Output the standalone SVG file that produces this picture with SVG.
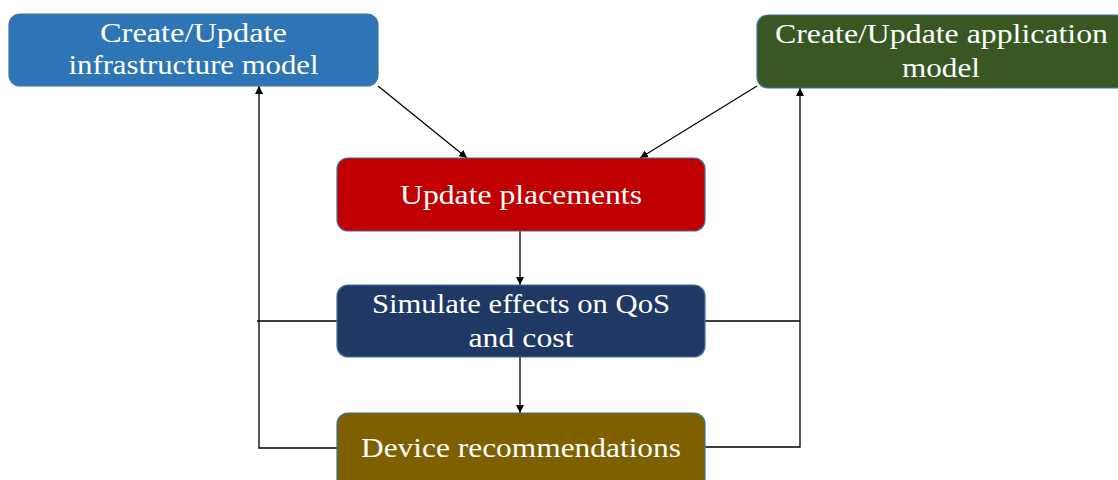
<svg xmlns="http://www.w3.org/2000/svg" width="1118" height="480" viewBox="0 0 1118 480">
  <defs>
    <marker id="arrow" viewBox="0 0 10 10" refX="10" refY="5" markerWidth="8" markerHeight="8" markerUnits="userSpaceOnUse" orient="auto">
      <path d="M0,0 L10,5 L0,10 z" fill="#000"/>
    </marker>
    <style>
      .box { stroke: #41719C; stroke-width: 1.2; }
      .lbl { font-family: "Liberation Serif", "Times New Roman", serif; font-size: 27px; fill: #fff; text-anchor: middle; }
      .wire { fill: none; stroke: #000; stroke-width: 1.3; }
    </style>
  </defs>
  <rect width="1118" height="480" fill="#fff"/>

  <g id="connectors">
    <line class="wire" x1="378" y1="86" x2="467" y2="158" marker-end="url(#arrow)"/>
    <line class="wire" x1="757" y1="86" x2="640" y2="158" marker-end="url(#arrow)"/>
    <line class="wire" x1="520" y1="231" x2="520" y2="285" marker-end="url(#arrow)"/>
    <line class="wire" x1="520" y1="357" x2="520" y2="413" marker-end="url(#arrow)"/>
    <!-- left feedback loop -->
    <polyline class="wire" points="337,448 259,448 259,86" marker-end="url(#arrow)"/>
    <line class="wire" x1="257" y1="321" x2="337" y2="321"/>
    <!-- right feedback loop -->
    <polyline class="wire" points="705,447 800,447 800,88" marker-end="url(#arrow)"/>
    <line class="wire" x1="705" y1="321" x2="800" y2="321"/>
  </g>

  <g id="infra-model">
    <rect class="box" x="9" y="14" width="369" height="72" rx="11" fill="#2E75B6"/>
    <text class="lbl" x="193.5" y="42" textLength="187" lengthAdjust="spacingAndGlyphs">Create/Update</text>
    <text class="lbl" x="193.5" y="74" textLength="250" lengthAdjust="spacingAndGlyphs">infrastructure model</text>
  </g>

  <g id="app-model">
    <rect class="box" x="757" y="15" width="370" height="73" rx="11" fill="#385723"/>
    <text class="lbl" x="941.5" y="43" textLength="333" lengthAdjust="spacingAndGlyphs">Create/Update application</text>
    <text class="lbl" x="941" y="77" textLength="78" lengthAdjust="spacingAndGlyphs">model</text>
  </g>

  <g id="update-placements">
    <rect class="box" x="337" y="158" width="368" height="73" rx="11" fill="#C00000"/>
    <text class="lbl" x="521" y="204" textLength="242" lengthAdjust="spacingAndGlyphs">Update placements</text>
  </g>

  <g id="simulate">
    <rect class="box" x="337" y="285" width="368" height="72" rx="11" fill="#203864"/>
    <text class="lbl" x="521" y="313" textLength="298" lengthAdjust="spacingAndGlyphs">Simulate effects on QoS</text>
    <text class="lbl" x="521" y="347" textLength="105" lengthAdjust="spacingAndGlyphs">and cost</text>
  </g>

  <g id="recommendations">
    <rect class="box" x="337" y="413" width="368" height="80" rx="11" fill="#7F6000"/>
    <text class="lbl" x="521" y="457" textLength="320" lengthAdjust="spacingAndGlyphs">Device recommendations</text>
  </g>
</svg>
